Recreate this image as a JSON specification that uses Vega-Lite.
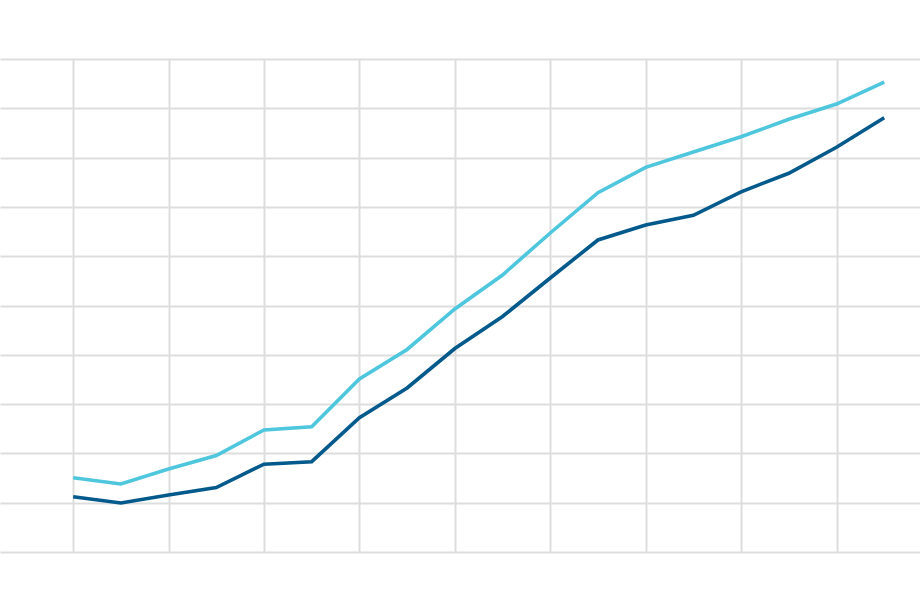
{
  "$schema": "https://vega.github.io/schema/vega-lite/v6.json",
  "width": 920,
  "height": 493,
  "autosize": {"type": "none"},
  "padding": {"left": 0, "top": 59, "right": 0, "bottom": 60},
  "background": "white",
  "config": {
    "view": {"stroke": null},
    "axis": {"gridColor": "#dddddd", "gridWidth": 2, "gridOpacity": 1, "labels": false, "ticks": false, "domain": false, "title": null}
  },
  "data": {
    "values": [
      {"year": 2000, "series": "A", "value": 11.22},
      {"year": 2001, "series": "A", "value": 9.94},
      {"year": 2002, "series": "A", "value": 11.56},
      {"year": 2003, "series": "A", "value": 13.08},
      {"year": 2004, "series": "A", "value": 17.81},
      {"year": 2005, "series": "A", "value": 18.32},
      {"year": 2006, "series": "A", "value": 27.24},
      {"year": 2007, "series": "A", "value": 33.27},
      {"year": 2008, "series": "A", "value": 41.28},
      {"year": 2009, "series": "A", "value": 47.77},
      {"year": 2010, "series": "A", "value": 55.58},
      {"year": 2011, "series": "A", "value": 63.29},
      {"year": 2012, "series": "A", "value": 66.33},
      {"year": 2013, "series": "A", "value": 68.3},
      {"year": 2014, "series": "A", "value": 73.06},
      {"year": 2015, "series": "A", "value": 76.82},
      {"year": 2016, "series": "A", "value": 82.09},
      {"year": 2017, "series": "A", "value": 88.07},
      {"year": 2000, "series": "B", "value": 15.07},
      {"year": 2001, "series": "B", "value": 13.79},
      {"year": 2002, "series": "B", "value": 16.84},
      {"year": 2003, "series": "B", "value": 19.57},
      {"year": 2004, "series": "B", "value": 24.75},
      {"year": 2005, "series": "B", "value": 25.4},
      {"year": 2006, "series": "B", "value": 35.09},
      {"year": 2007, "series": "B", "value": 41.08},
      {"year": 2008, "series": "B", "value": 49.29},
      {"year": 2009, "series": "B", "value": 56.19},
      {"year": 2010, "series": "B", "value": 64.71},
      {"year": 2011, "series": "B", "value": 72.88},
      {"year": 2012, "series": "B", "value": 78.03},
      {"year": 2013, "series": "B", "value": 81.14},
      {"year": 2014, "series": "B", "value": 84.24},
      {"year": 2015, "series": "B", "value": 87.77},
      {"year": 2016, "series": "B", "value": 90.87},
      {"year": 2017, "series": "B", "value": 95.33}
    ]
  },
  "mark": {"type": "line", "strokeWidth": 3.6, "clip": false},
  "encoding": {
    "x": {
      "field": "year",
      "type": "quantitative",
      "scale": {"domain": [1998.467, 2017.75], "nice": false, "zero": false},
      "axis": {"values": [2000, 2002, 2004, 2006, 2008, 2010, 2012, 2014, 2016]}
    },
    "y": {
      "field": "value",
      "type": "quantitative",
      "scale": {"domain": [0, 100], "nice": false},
      "axis": {"values": [0, 10, 20, 30, 40, 50, 60, 70, 80, 90, 100]}
    },
    "color": {
      "field": "series",
      "type": "nominal",
      "scale": {"domain": ["A", "B"], "range": ["#02598c", "#4ec6dd"]},
      "legend": null
    }
  }
}
